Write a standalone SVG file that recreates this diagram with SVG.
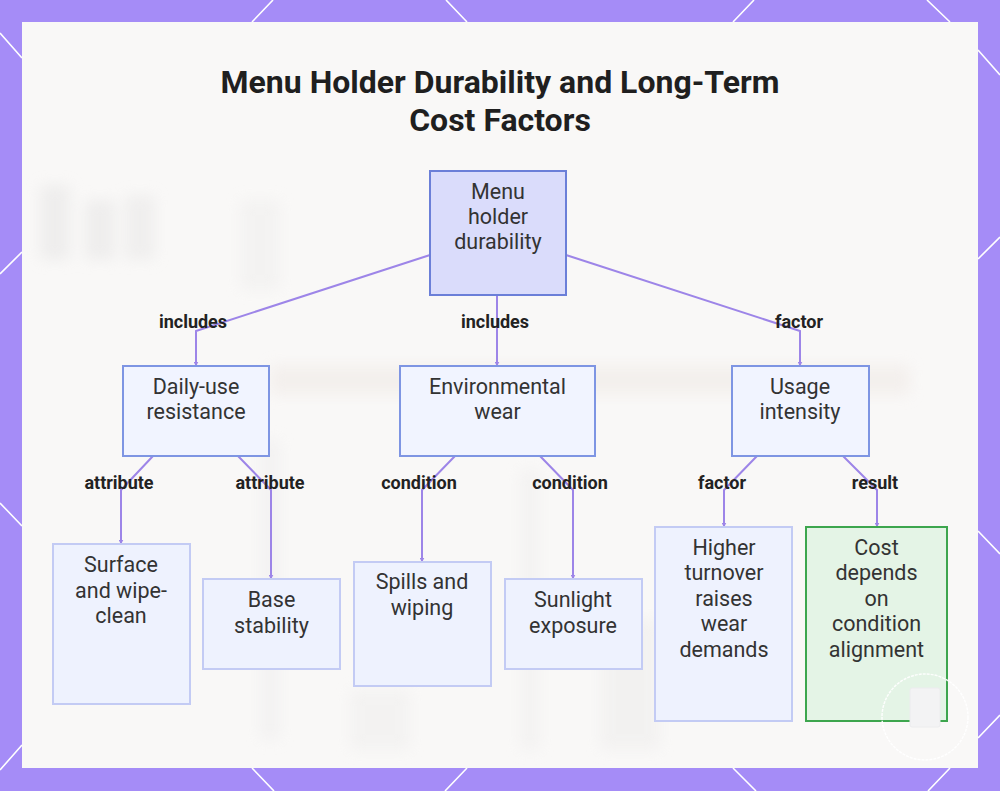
<svg xmlns="http://www.w3.org/2000/svg" width="1000" height="791" viewBox="0 0 1000 791">
<defs>
<style>
.bd{stroke:#ffffff;stroke-width:1.6;fill:none}
.title{font-family:Roboto,"Liberation Sans",sans-serif;font-weight:700;font-size:32px;fill:#1f1f1f;text-anchor:middle}
.nt{font-family:Roboto,"Liberation Sans",sans-serif;font-size:21.5px;fill:#333333;text-anchor:middle}
.lb{font-family:Roboto,"Liberation Sans",sans-serif;font-weight:700;font-size:18px;fill:#222222;text-anchor:middle}
.edge{fill:none;stroke:#9d85e8;stroke-width:2;marker-end:url(#arr)}
.root{fill:#dadcfb;stroke:#6b7fd8;stroke-width:2}
.l2{fill:#f1f4ff;stroke:#7e95e3;stroke-width:2}
.l3{fill:#eef2fe;stroke:#c3cbf4;stroke-width:2}
.res{fill:#e4f4e6;stroke:#3da64e;stroke-width:2}
</style>
<marker id="arr" viewBox="0 0 10 10" refX="9" refY="5" markerWidth="5" markerHeight="5" orient="auto" markerUnits="userSpaceOnUse">
<path d="M0,0 L10,5 L0,10 z" fill="#9d85e8"/>
</marker>
<filter id="blur" x="-20%" y="-20%" width="140%" height="140%"><feGaussianBlur stdDeviation="7"/></filter>
</defs>
<rect width="1000" height="791" fill="#a58cf7"/>
<g id="border-pattern">
<path class="bd" d="M273,0 L252,22 M446,0 L467,22 M754,0 L733,22 M927,0 L950,22"/>
<path class="bd" d="M252,768 L274,791 M467,768 L445,791 M733,768 L756,791 M950,768 L928,791"/>
<path class="bd" d="M0,33 L22,58 M0,274 L22,252 M0,503 L22,526 M0,770 L22,745"/>
<path class="bd" d="M978,50 L1000,75 M978,259 L1000,237 M978,531 L1000,554 M978,738 L1000,715"/>
</g>
<rect x="22" y="22" width="956" height="746" fill="#f9f8f7"/>
<g id="backdrop" filter="url(#blur)" opacity="0.55">
<rect x="40" y="185" width="30" height="75" fill="#e6e5e5"/>
<rect x="85" y="200" width="30" height="60" fill="#e6e5e5"/>
<rect x="125" y="195" width="30" height="65" fill="#e8e7e7"/>
<rect x="270" y="365" width="640" height="30" fill="#efe9e5"/>
<rect x="240" y="200" width="40" height="90" fill="#efeeed"/>
<rect x="260" y="440" width="20" height="300" fill="#eeeded"/>
<rect x="520" y="470" width="20" height="280" fill="#efeeed"/>
<rect x="600" y="620" width="60" height="130" fill="#eeedec"/>
<rect x="350" y="690" width="60" height="60" fill="#efeeed"/>
</g>
<g id="title">
<text class="title" x="500" y="93">Menu Holder Durability and Long-Term</text>
<text class="title" x="500" y="131">Cost Factors</text>
</g>
<g id="connectors">
<path class="edge" d="M430,255 L196,331 L196,366"/>
<path class="edge" d="M497,295 L497,366"/>
<path class="edge" d="M566,255 L800,331 L800,366"/>
<path class="edge" d="M153,456 L121,490 L121,544"/>
<path class="edge" d="M238,456 L271,490 L271,579"/>
<path class="edge" d="M455,456 L422,490 L422,562"/>
<path class="edge" d="M540,456 L573,490 L573,579"/>
<path class="edge" d="M757,456 L724,490 L724,527"/>
<path class="edge" d="M843,456 L877,490 L877,527"/>
<text class="lb" x="193" y="327.5">includes</text>
<text class="lb" x="495" y="327.5">includes</text>
<text class="lb" x="799" y="327.5">factor</text>
<text class="lb" x="119" y="488.5">attribute</text>
<text class="lb" x="270" y="488.5">attribute</text>
<text class="lb" x="419" y="488.5">condition</text>
<text class="lb" x="570" y="488.5">condition</text>
<text class="lb" x="722" y="488.5">factor</text>
<text class="lb" x="875" y="488.5">result</text>
</g>
<g id="n-root">
<rect class="root" x="430" y="171" width="136" height="124"/>
<text class="nt" x="498" y="199">Menu</text>
<text class="nt" x="498" y="224">holder</text>
<text class="nt" x="498" y="249">durability</text>
</g>
<g id="n-daily">
<rect class="l2" x="123" y="366" width="146" height="90"/>
<text class="nt" x="196" y="394">Daily-use</text>
<text class="nt" x="196" y="419">resistance</text>
</g>
<g id="n-env">
<rect class="l2" x="400" y="366" width="195" height="90"/>
<text class="nt" x="497.5" y="394">Environmental</text>
<text class="nt" x="497.5" y="419">wear</text>
</g>
<g id="n-usage">
<rect class="l2" x="732" y="366" width="137" height="90"/>
<text class="nt" x="800" y="394">Usage</text>
<text class="nt" x="800" y="419">intensity</text>
</g>
<g id="n-surface">
<rect class="l3" x="53" y="544" width="137" height="160"/>
<text class="nt" x="121" y="572">Surface</text>
<text class="nt" x="121" y="598">and wipe-</text>
<text class="nt" x="121" y="623">clean</text>
</g>
<g id="n-base">
<rect class="l3" x="203" y="579" width="137" height="90"/>
<text class="nt" x="271.5" y="607">Base</text>
<text class="nt" x="271.5" y="633">stability</text>
</g>
<g id="n-spills">
<rect class="l3" x="354" y="562" width="137" height="124"/>
<text class="nt" x="422" y="589">Spills and</text>
<text class="nt" x="422" y="615">wiping</text>
</g>
<g id="n-sunlight">
<rect class="l3" x="505" y="579" width="137" height="90"/>
<text class="nt" x="573" y="607">Sunlight</text>
<text class="nt" x="573" y="633">exposure</text>
</g>
<g id="n-higher">
<rect class="l3" x="655" y="527" width="137" height="194"/>
<text class="nt" x="724" y="555">Higher</text>
<text class="nt" x="724" y="580">turnover</text>
<text class="nt" x="724" y="606">raises</text>
<text class="nt" x="724" y="631">wear</text>
<text class="nt" x="724" y="657">demands</text>
</g>
<g id="n-cost">
<rect class="res" x="806" y="527" width="141" height="194"/>
<text class="nt" x="876.5" y="555">Cost</text>
<text class="nt" x="876.5" y="580">depends</text>
<text class="nt" x="876.5" y="606">on</text>
<text class="nt" x="876.5" y="631">condition</text>
<text class="nt" x="876.5" y="657">alignment</text>
</g>
<g id="watermark">
<circle cx="925" cy="717" r="43" fill="none" stroke="#ffffff" stroke-width="1.5" stroke-dasharray="3 1" opacity="0.9"/>
<rect x="910" y="688" width="30" height="39" rx="2" fill="#f3f3f4" stroke="#ececee" stroke-width="1"/>
</g>
</svg>
